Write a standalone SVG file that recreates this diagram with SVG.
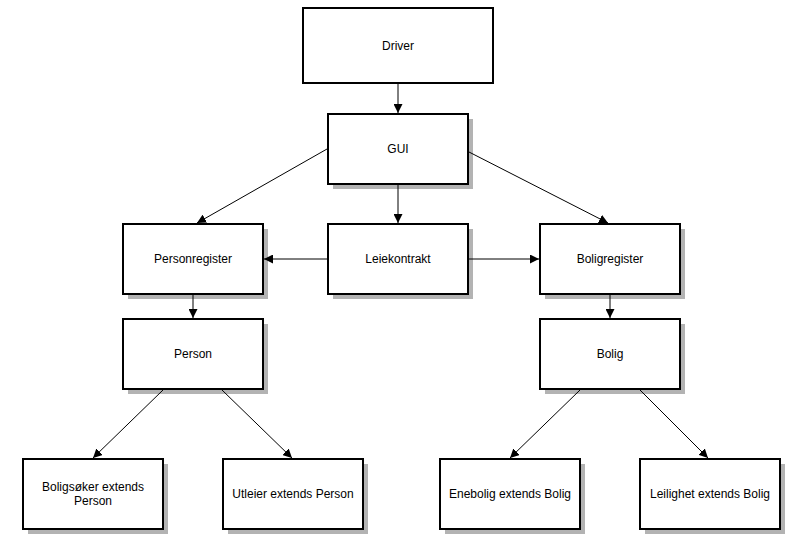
<svg xmlns="http://www.w3.org/2000/svg" width="800" height="549" viewBox="0 0 800 549">
<style>
.box{fill:#fff;stroke:#000;stroke-width:2}
.sh{fill:#b3b3b3}
.t{font-family:"Liberation Sans",Arial,sans-serif;font-size:12px;fill:#000;text-anchor:middle;dominant-baseline:central}
.c{stroke:#000;stroke-width:1;fill:none;marker-end:url(#ah)}
</style>
<defs>
<marker id="ah" viewBox="0 0 10 10" refX="10" refY="5" markerWidth="9" markerHeight="9" markerUnits="userSpaceOnUse" orient="auto">
<path d="M0,0 L10,5 L0,10 z" fill="#000"/>
</marker>
</defs>
<rect width="800" height="549" fill="#fff"/>
<g id="driver">
<rect class="box" x="303" y="8" width="190" height="75"/>
<text class="t" x="398" y="46">Driver</text>
</g>
<g id="gui">
<rect class="sh" x="333" y="119" width="140" height="70"/>
<rect class="box" x="328" y="114" width="140" height="70"/>
<text class="t" x="398" y="149">GUI</text>
</g>
<g id="personregister">
<rect class="sh" x="128" y="229" width="140" height="70"/>
<rect class="box" x="123" y="224" width="140" height="70"/>
<text class="t" x="193" y="259">Personregister</text>
</g>
<g id="leiekontrakt">
<rect class="sh" x="333" y="229" width="140" height="70"/>
<rect class="box" x="328" y="224" width="140" height="70"/>
<text class="t" x="398" y="259">Leiekontrakt</text>
</g>
<g id="boligregister">
<rect class="sh" x="545" y="229" width="140" height="70"/>
<rect class="box" x="540" y="224" width="140" height="70"/>
<text class="t" x="610" y="259">Boligregister</text>
</g>
<g id="person">
<rect class="sh" x="128" y="324" width="140" height="70"/>
<rect class="box" x="123" y="319" width="140" height="70"/>
<text class="t" x="193" y="354">Person</text>
</g>
<g id="bolig">
<rect class="sh" x="545" y="324" width="140" height="70"/>
<rect class="box" x="540" y="319" width="140" height="70"/>
<text class="t" x="610" y="354">Bolig</text>
</g>
<g id="boligsoker">
<rect class="sh" x="28" y="464" width="140" height="70"/>
<rect class="box" x="23" y="459" width="140" height="70"/>
<text class="t" x="93" y="487">Boligsøker extends</text>
<text class="t" x="93" y="501">Person</text>
</g>
<g id="utleier">
<rect class="sh" x="228" y="464" width="140" height="70"/>
<rect class="box" x="223" y="459" width="140" height="70"/>
<text class="t" x="293" y="494">Utleier extends Person</text>
</g>
<g id="enebolig">
<rect class="sh" x="445" y="464" width="140" height="70"/>
<rect class="box" x="440" y="459" width="140" height="70"/>
<text class="t" x="510" y="494">Enebolig extends Bolig</text>
</g>
<g id="leilighet">
<rect class="sh" x="645" y="464" width="140" height="70"/>
<rect class="box" x="640" y="459" width="140" height="70"/>
<text class="t" x="710" y="494">Leilighet extends Bolig</text>
</g>
<g id="connectors">
<line class="c" x1="398" y1="84" x2="398" y2="113"/>
<line class="c" x1="327" y1="149" x2="197" y2="223"/>
<line class="c" x1="469" y1="152" x2="608" y2="223"/>
<line class="c" x1="398" y1="185" x2="398" y2="223"/>
<line class="c" x1="327" y1="259" x2="264" y2="259"/>
<line class="c" x1="469" y1="259" x2="539" y2="259"/>
<line class="c" x1="193" y1="295" x2="193" y2="318"/>
<line class="c" x1="610" y1="295" x2="610" y2="318"/>
<line class="c" x1="163" y1="390" x2="93" y2="458"/>
<line class="c" x1="222" y1="390" x2="292" y2="458"/>
<line class="c" x1="580" y1="390" x2="510" y2="458"/>
<line class="c" x1="640" y1="390" x2="708" y2="458"/>
</g>
</svg>
